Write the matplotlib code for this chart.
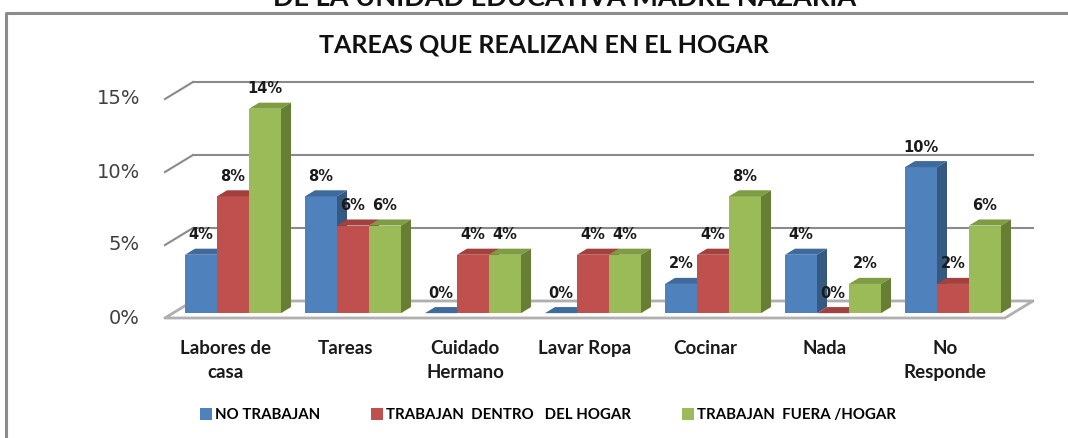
import matplotlib
matplotlib.use("Agg")
import matplotlib.pyplot as plt
from matplotlib.patches import Polygon, Patch
from matplotlib.lines import Line2D

# data (percent)
categorias = ["Labores de\ncasa", "Tareas", "Cuidado\nHermano", "Lavar Ropa",
              "Cocinar", "Nada", "No\nResponde"]
no_trabajan = [4, 8, 0, 0, 2, 4, 10]
trabajan_dentro = [8, 6, 4, 4, 4, 0, 2]
trabajan_fuera = [14, 6, 4, 4, 8, 2, 6]
series_nombres = ["NO TRABAJAN", "TRABAJAN  DENTRO   DEL HOGAR", "TRABAJAN  FUERA /HOGAR"]
y_ticks = [0, 5, 10, 15]

# colours: front, top, side
COLORS = [("#4F81BD", "#3F6A9C", "#35597F"),
          ("#C0504D", "#A3413F", "#8A3735"),
          ("#9BBB59", "#7E9C42", "#677F35")]

W, H = 1068, 438
PX_CAT = 120.0   # pixels per category
PX_PCT = 14.6    # pixels per percent
X0, Y0 = 225, 318
DX, DY = 28 / PX_CAT, 17 / PX_PCT   # depth vector (full floor depth)


def proj(x, v, t):
    return (x + DX * t, v + DY * t)


fig = plt.figure(figsize=(W / 100, H / 100), dpi=100)
ax = fig.add_axes([0, 0, 1, 1])
ax.set_xlim(-X0 / PX_CAT, (W - X0) / PX_CAT)
ax.set_ylim((Y0 - H) / PX_PCT, Y0 / PX_PCT)
ax.axis("off")

n = len(categorias)
left, right = -0.5, n - 0.5

# back wall gridlines + left wall diagonals
for tk in y_ticks:
    xs, ys = zip(proj(left, tk, 1), proj(right, tk, 1))
    ax.plot(xs, ys, color="#8a8a8a", lw=1.5, zorder=1)
    xs, ys = zip(proj(left, tk, 0), proj(left, tk, 1))
    ax.plot(xs, ys, color="#8a8a8a", lw=1.5, zorder=1)
    ax.text(left - 25 / PX_CAT, tk, f"{tk}%", ha="right", va="center",
            fontsize=14, color="#404040", family="DejaVu Sans")

# floor
floor = [proj(left, 0, 0), proj(right, 0, 0), proj(right, 0, 1), proj(left, 0, 1)]
ax.add_patch(Polygon(floor, closed=True, facecolor="white", edgecolor="#b0b0b0",
                     lw=2, zorder=2))

# bars
w = 32 / PX_CAT
t0, t1 = 8 / 28, 18 / 28
series = [no_trabajan, trabajan_dentro, trabajan_fuera]
z = 3
for i in range(n):
    for k, vals in enumerate(series):
        v = vals[i]
        front, top, side = COLORS[k]
        xl = i - 1.5 * w + k * w
        xr = xl + w
        ax.add_patch(Polygon([proj(xl, 0, t0), proj(xr, 0, t0), proj(xr, v, t0), proj(xl, v, t0)],
                             closed=True, facecolor=front, edgecolor="none", zorder=z))
        ax.add_patch(Polygon([proj(xl, v, t0), proj(xr, v, t0), proj(xr, v, t1), proj(xl, v, t1)],
                             closed=True, facecolor=top, edgecolor="none", zorder=z))
        ax.add_patch(Polygon([proj(xr, 0, t0), proj(xr, v, t0), proj(xr, v, t1), proj(xr, 0, t1)],
                             closed=True, facecolor=side, edgecolor="none", zorder=z))
        z += 1
        lx, ly = proj((xl + xr) / 2, v, t0)
        ax.text(lx, ly + 20 / PX_PCT, f"{v}%", ha="center", va="center",
                fontsize=10.5, fontweight="bold", family="DejaVu Sans",
                color="#1a1a1a", zorder=100)

# category labels
for i, cat in enumerate(categorias):
    ax.text(i, -22 / PX_PCT, cat, ha="center", va="top", fontsize=13.5,
            fontweight="bold", family="Lato", color="#1a1a1a", linespacing=1.5)

# titles
fig.text(544 / W, 1 - 45 / H, "TAREAS QUE REALIZAN EN EL HOGAR", ha="center",
         va="center", fontsize=18, fontweight="bold", family="Lato", color="#111111")
fig.text(565 / W, 1 - 6 / H, "DE LA UNIDAD EDUCATIVA MADRE NAZARIA", ha="center",
         va="baseline", fontsize=19.5, fontweight="bold", family="Lato", color="#111111")

# border of chart area
fig.add_artist(Line2D([6 / W, 6 / W, 1], [0, 1 - 13 / H, 1 - 13 / H],
                      transform=fig.transFigure, color="#8c8c8c", lw=2.2))

legend_elements = [Patch(facecolor=c[0], edgecolor="none", label=lab)
                   for c, lab in zip(COLORS, series_nombres)]
fig.legend(handles=legend_elements, loc="center", bbox_to_anchor=(548 / W, 1 - 415 / H),
           ncol=3, frameon=False,
           prop={"family": "Lato", "size": 10.8, "weight": "bold"},
           handlelength=0.8, handleheight=0.8, handletextpad=0.2, columnspacing=3.4)

fig.savefig("out.png", dpi=100)
